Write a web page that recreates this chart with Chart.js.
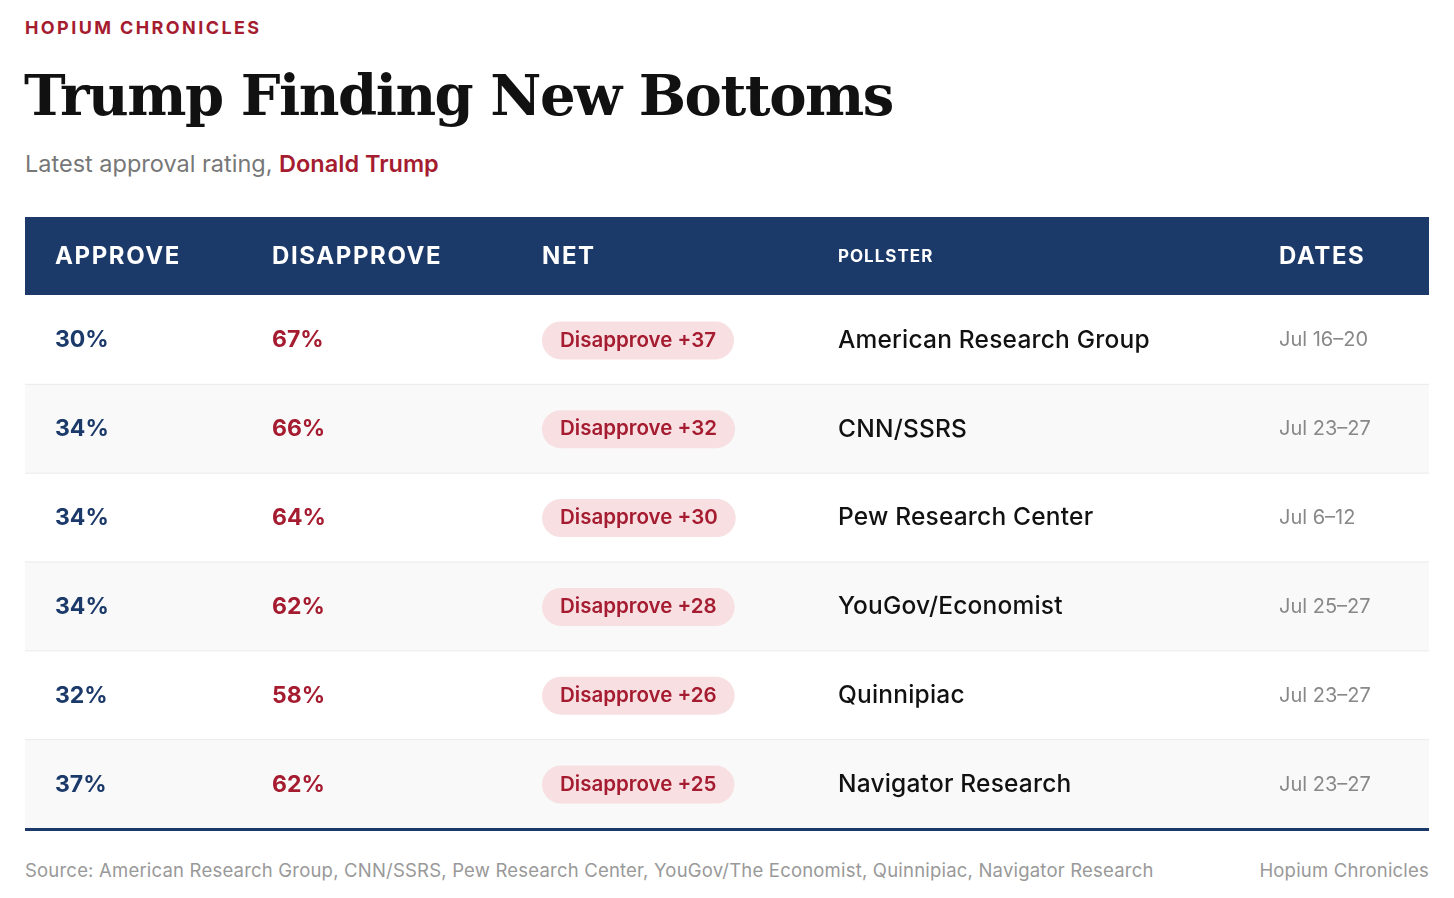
<!DOCTYPE html>
<html><head><meta charset="utf-8">
<script src="https://cdn.jsdelivr.net/npm/chart.js@4"></script>
<style>
body{margin:0;background:#fff;font-family:Inter,"Noto Sans",sans-serif;}
.kick{position:absolute;left:25px;top:17px;color:#a51c30;font-weight:700;font-size:18px;letter-spacing:2.4px;}
h1{position:absolute;left:24px;top:62px;margin:0;font-family:"DejaVu Serif",serif;font-weight:700;font-size:56px;letter-spacing:-1.5px;color:#111;}
.sub{position:absolute;left:25px;top:149px;font-size:23.5px;color:#777;}
.sub b{color:#a51c30;font-weight:600;}
#wrap{position:absolute;left:25px;top:217px;width:1404px;height:614px;}
.src{position:absolute;left:25px;top:859px;font-size:18.5px;letter-spacing:0.2px;color:#999;}
.brand{position:absolute;right:25px;top:859px;font-size:18.5px;letter-spacing:0.2px;color:#999;}
</style></head><body>
<div class="kick">HOPIUM CHRONICLES</div>
<h1>Trump Finding New Bottoms</h1>
<div class="sub">Latest approval rating, <b>Donald Trump</b></div>
<div id="wrap"><canvas id="c"></canvas></div>
<div class="src">Source: American Research Group, CNN/SSRS, Pew Research Center, YouGov/The Economist, Quinnipiac, Navigator Research</div>
<div class="brand">Hopium Chronicles</div>
<script>
const pollsters=["American Research Group","CNN/SSRS","Pew Research Center","YouGov/Economist","Quinnipiac","Navigator Research"];
const approve=[30,34,34,34,32,37];
const disapprove=[67,66,64,62,58,62];
const net=[37,32,30,28,26,25];
const dates=["Jul 16–20","Jul 23–27","Jul 6–12","Jul 25–27","Jul 23–27","Jul 23–27"];
const headers=["APPROVE","DISAPPROVE","NET","POLLSTER","DATES"];
const colX=[30,247,517,813,1254];
const F='Inter,"Noto Sans",sans-serif';
const tablePlugin={id:'table',
beforeDatasetsDraw(ch){
 const c=ch.ctx,a=ch.chartArea,y=ch.scales.y;
 c.save();
 c.fillStyle='#1b3969';c.fillRect(0,0,ch.width,78);
 c.fillStyle='#fff';c.textBaseline='middle';
 headers.forEach((h,i)=>{c.font=(i==3?'700 17px ':'700 24px ')+F;c.letterSpacing=(i==3?'1px':'1.6px');c.fillText(h,colX[i],40);});
 c.letterSpacing='0px';
 const h=(y.getPixelForValue(1)-y.getPixelForValue(0));
 pollsters.forEach((p,i)=>{
  const cy=y.getPixelForValue(i)+1;
  if(i%2==1){c.fillStyle='#f9f9f9';c.fillRect(0,cy-1-h/2,ch.width,h);}
  if(i>0){c.fillStyle='#ebebeb';c.fillRect(0,cy-1-h/2,ch.width,1);}
  c.font='700 23px '+F;c.fillStyle='#1b3969';c.fillText(approve[i]+'%',colX[0],cy);
  c.fillStyle='#a51c30';c.fillText(disapprove[i]+'%',colX[1],cy);
  const t='Disapprove +'+net[i];c.font='600 20.5px '+F;
  const w=c.measureText(t).width+36;
  c.fillStyle='#f7dfe2';c.beginPath();c.roundRect(colX[2],cy-19,w,38,19);c.fill();
  c.fillStyle='#a51c30';c.fillText(t,colX[2]+18,cy);
  c.font='500 24.5px '+F;c.letterSpacing='0.2px';c.fillStyle='#111';c.fillText(p,colX[3],cy);
  c.letterSpacing='0px';
  c.font='400 20px '+F;c.fillStyle='#888';c.fillText(dates[i],colX[4],cy);
 });
 c.fillStyle='#1b3969';c.fillRect(0,a.bottom,ch.width,3);
 c.restore();
}};
new Chart(document.getElementById('c'),{type:'bar',
data:{labels:pollsters,datasets:[{data:net,backgroundColor:'rgba(0,0,0,0)'}]},
options:{indexAxis:'y',responsive:true,maintainAspectRatio:false,animation:false,
layout:{padding:{top:78,bottom:3,left:0,right:0}},
plugins:{legend:{display:false},tooltip:{enabled:false}},
scales:{x:{display:false,min:0,max:40},y:{display:false}}},
plugins:[tablePlugin]});
</script></body></html>
